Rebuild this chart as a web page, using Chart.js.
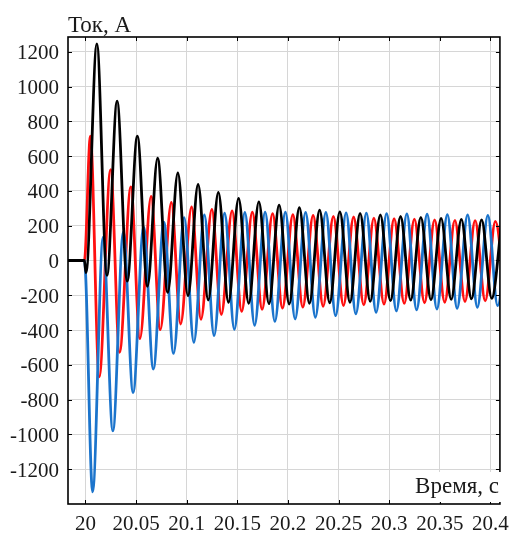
<!DOCTYPE html>
<html>
<head>
<meta charset="utf-8">
<script src="https://cdn.jsdelivr.net/npm/chart.js@4"></script>
<style>
  body { margin: 0; background: #fff; }
  #box { width: 517px; height: 533px; position: relative; }
</style>
</head>
<body>
<div id="box"><canvas id="myChart"></canvas></div>
<script>
// axis ticks
const xTicks = [20, 20.05, 20.1, 20.15, 20.2, 20.25, 20.3, 20.35, 20.4];
const yTicks = [-1200, -1000, -800, -600, -400, -200, 0, 200, 400, 600, 800, 1000, 1200];

// phase currents, extrema (time in s, current in A)
const blackT = [19.98, 19.999, 20.0006, 20.0113, 20.0213, 20.0313, 20.0413, 20.0513, 20.0613, 20.0713,
    20.0813, 20.0913, 20.1013, 20.1113, 20.1213, 20.1313, 20.1413, 20.1513, 20.1613, 20.1713,
    20.1813, 20.1913, 20.2013, 20.2113, 20.2213, 20.2313, 20.2413, 20.2513, 20.2613, 20.2713,
    20.2813, 20.2913, 20.3013, 20.3113, 20.3213, 20.3313, 20.3413, 20.3513, 20.3613, 20.3713,
    20.3813, 20.3913, 20.4013, 20.4113];
const blackI = [0, 0, -70, 1245, -86, 916, -119, 715, -148, 588,
    -183, 503, -202, 437, -227, 392, -240, 357, -246, 337,
    -248, 318, -250, 304, -246, 290, -243, 280, -240, 271,
    -235, 262, -231, 253, -228, 248, -226, 242, -224, 237,
    -221, 233, -218, 229];

const redT = [19.98, 19.999, 20.0049, 20.0136, 20.0249, 20.0337, 20.0449, 20.0538, 20.0649, 20.0739,
    20.0849, 20.0940, 20.1049, 20.1141, 20.1249, 20.1342, 20.1449, 20.1543, 20.1649, 20.1745,
    20.1849, 20.1946, 20.2049, 20.2147, 20.2249, 20.2348, 20.2449, 20.2549, 20.2649, 20.2749,
    20.2849, 20.2949, 20.3049, 20.3149, 20.3249, 20.3349, 20.3449, 20.3549, 20.3649, 20.3749,
    20.3849, 20.3949, 20.4049, 20.4149];
const redI = [0, 0, 715, -669, 523, -528, 423, -449, 369, -398,
    334, -365, 308, -338, 294, -310, 285, -292, 278, -280,
    269, -274, 263, -268, 259, -263, 254, -259, 250, -255,
    244, -251, 240, -247, 238, -243, 234, -240, 231, -236,
    229, -232, 225, -228];

const blueT = [19.98, 19.999, 20.0071, 20.0175, 20.0271, 20.0375, 20.0471, 20.0575, 20.0671, 20.0775,
    20.0871, 20.0975, 20.1071, 20.1175, 20.1271, 20.1375, 20.1471, 20.1575, 20.1671, 20.1775,
    20.1871, 20.1975, 20.2071, 20.2175, 20.2271, 20.2375, 20.2471, 20.2575, 20.2671, 20.2775,
    20.2871, 20.2975, 20.3071, 20.3175, 20.3271, 20.3375, 20.3471, 20.3575, 20.3671, 20.3775,
    20.3871, 20.3975, 20.4071, 20.4175];
const blueI = [0, 0, -1330, 134, -980, 163, -759, 192, -624, 221,
    -534, 246, -471, 262, -432, 272, -396, 276, -373, 278,
    -350, 278, -336, 277, -327, 276, -317, 274, -307, 272,
    -298, 270, -290, 268, -284, 266, -279, 264, -275, 262,
    -269, 260, -259, 258];

const xMin = 19.9828, xMax = 20.4094;
const yMin = -1400, yMax = 1285;

function pts(ts, vs) {
    return ts.map((t, i) => ({ x: t, y: vs[i] }));
}

const FAMILY = "'Liberation Serif', 'DejaVu Serif', serif";
const FONT = { family: FAMILY, size: 21 };

// frame, inward ticks and the two axis captions
const framePlugin = {
    id: 'frame',
    afterDraw(chart) {
        const ctx = chart.ctx;
        const a = chart.chartArea;
        const sx = chart.scales.x, sy = chart.scales.y;
        ctx.save();
        ctx.strokeStyle = '#000';
        ctx.lineWidth = 1;
        ctx.beginPath();
        xTicks.forEach(v => {
            const px = Math.round(sx.getPixelForValue(v)) + 0.5;
            ctx.moveTo(px, a.bottom); ctx.lineTo(px, a.bottom - 4);
            ctx.moveTo(px, a.top); ctx.lineTo(px, a.top + 4);
        });
        yTicks.forEach(v => {
            const py = Math.round(sy.getPixelForValue(v)) + 0.5;
            ctx.moveTo(a.left, py); ctx.lineTo(a.left + 4, py);
            ctx.moveTo(a.right, py); ctx.lineTo(a.right - 4, py);
        });
        ctx.stroke();
        ctx.lineWidth = 1.6;
        ctx.strokeRect(a.left, a.top, a.right - a.left, a.bottom - a.top);

        ctx.font = `23px ${FAMILY}`;
        ctx.fillStyle = '#1a1a1a';
        ctx.textBaseline = 'alphabetic';
        ctx.textAlign = 'left';
        ctx.fillText('Ток, А', 68, 32);

        ctx.fillStyle = '#fff';
        ctx.fillRect(405, 472, 100, 30);
        ctx.fillStyle = '#1a1a1a';
        ctx.textAlign = 'right';
        ctx.fillText('Время, с', 499, 493);
        ctx.restore();
    }
};

const line = (label, ts, vs, color) => ({
    label: label,
    data: pts(ts, vs),
    borderColor: color,
    borderWidth: 2.8,
    pointRadius: 0,
    fill: false,
    cubicInterpolationMode: 'monotone'
});

new Chart(document.getElementById('myChart'), {
    type: 'line',
    data: {
        datasets: [
            line('C', blackT, blackI, '#000000'),
            line('B', blueT, blueI, '#1b74cc'),
            line('A', redT, redI, '#ff1010')
        ]
    },
    options: {
        responsive: true,
        maintainAspectRatio: false,
        animation: false,
        layout: { padding: { top: 37, right: 10, left: 0, bottom: 0 } },
        scales: {
            x: {
                type: 'linear',
                min: xMin, max: xMax,
                afterBuildTicks: s => { s.ticks = xTicks.map(v => ({ value: v })); },
                afterFit: s => { s.height = 29; },
                grid: { color: '#d6d6d6', lineWidth: 1, drawTicks: false },
                border: { display: false },
                ticks: {
                    font: FONT, color: '#1a1a1a', padding: 8, maxRotation: 0,
                    callback: v => String(+v.toFixed(2))
                }
            },
            y: {
                type: 'linear',
                min: yMin, max: yMax,
                afterBuildTicks: s => { s.ticks = yTicks.map(v => ({ value: v })); },
                afterFit: s => { s.width = 68; },
                grid: { color: '#d6d6d6', lineWidth: 1, drawTicks: false },
                border: { display: false },
                ticks: {
                    font: FONT, color: '#1a1a1a', padding: 9, labelOffset: 2,
                    callback: v => String(v)
                }
            }
        },
        plugins: {
            legend: { display: false },
            tooltip: { enabled: false }
        }
    },
    plugins: [framePlugin]
});
</script>
</body>
</html>
